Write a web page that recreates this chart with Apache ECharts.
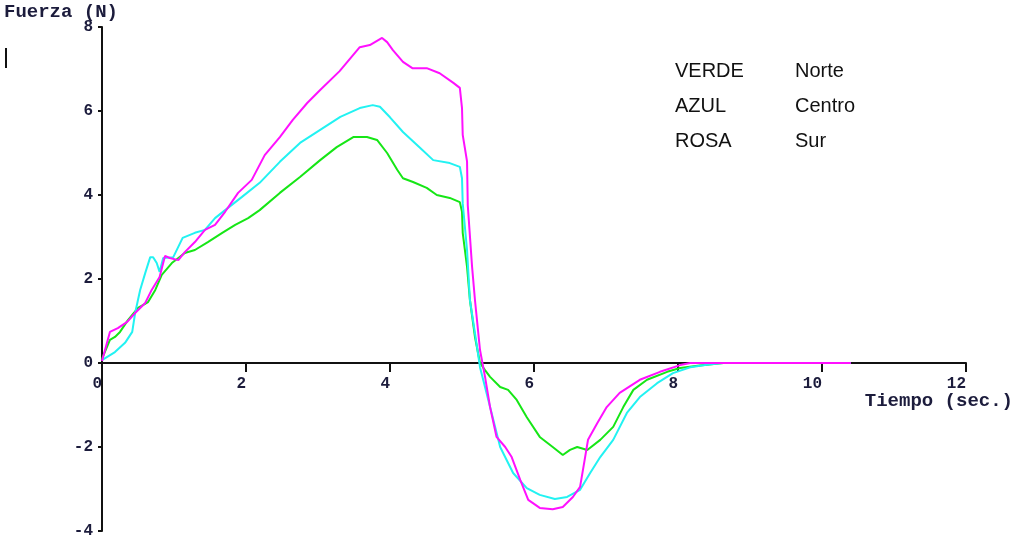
<!DOCTYPE html>
<html>
<head>
<meta charset="utf-8">
<title>Fuerza (N)</title>
<script src="https://cdn.jsdelivr.net/npm/echarts@6/dist/echarts.min.js"></script>
<style>
  html, body { margin: 0; padding: 0; background: #ffffff; }
  #chart { width: 1013px; height: 540px; }
</style>
</head>
<body>
<div id="chart"></div>
<script>
// Force readings (N) against time (s) for the three sensors.
const tiempoNorte = [0, 0.11, 0.18, 0.25, 0.36, 0.5, 0.64, 0.74, 0.83, 0.97, 1.15, 1.29, 1.47, 1.67, 1.85, 2.03, 2.19, 2.47, 2.75, 3.03, 3.26, 3.49, 3.68, 3.82, 3.96, 4.1, 4.18, 4.32, 4.51, 4.65, 4.83, 4.97, 5.0, 5.01, 5.07, 5.11, 5.18, 5.25, 5.32, 5.39, 5.53, 5.64, 5.76, 5.9, 6.08, 6.26, 6.4, 6.5, 6.6, 6.74, 6.92, 7.1, 7.24, 7.38, 7.57, 7.85, 8.03, 8.3, 8.63, 10.4];
const fuerzaNorte = [0.1, 0.55, 0.62, 0.74, 1.02, 1.31, 1.45, 1.74, 2.1, 2.38, 2.62, 2.69, 2.88, 3.1, 3.29, 3.45, 3.64, 4.05, 4.43, 4.83, 5.14, 5.38, 5.38, 5.31, 5.0, 4.6, 4.4, 4.31, 4.17, 4.0, 3.93, 3.83, 3.6, 3.1, 2.29, 1.5, 0.62, 0.0, -0.17, -0.33, -0.57, -0.64, -0.88, -1.29, -1.76, -2.0, -2.19, -2.07, -2.0, -2.07, -1.83, -1.52, -1.05, -0.64, -0.4, -0.21, -0.12, -0.06, 0, 0];

const tiempoCentro = [0, 0.18, 0.32, 0.42, 0.46, 0.53, 0.6, 0.67, 0.71, 0.76, 0.8, 0.85, 0.99, 1.12, 1.29, 1.43, 1.57, 1.71, 1.94, 2.19, 2.47, 2.75, 3.03, 3.31, 3.58, 3.76, 3.86, 4.0, 4.18, 4.42, 4.6, 4.83, 4.97, 5.0, 5.01, 5.07, 5.11, 5.18, 5.25, 5.39, 5.53, 5.71, 5.9, 6.08, 6.29, 6.46, 6.64, 6.78, 6.92, 7.1, 7.29, 7.47, 7.71, 7.93, 8.17, 8.4, 8.63, 10.4];
const fuerzaCentro = [0.07, 0.26, 0.48, 0.74, 1.19, 1.74, 2.14, 2.52, 2.52, 2.38, 2.17, 2.5, 2.52, 2.98, 3.1, 3.17, 3.45, 3.64, 3.95, 4.29, 4.79, 5.24, 5.55, 5.86, 6.07, 6.14, 6.1, 5.85, 5.5, 5.12, 4.83, 4.76, 4.67, 4.4, 3.8, 2.69, 1.5, 0.71, -0.1, -1.05, -2.0, -2.62, -2.98, -3.14, -3.24, -3.19, -3.02, -2.62, -2.24, -1.83, -1.19, -0.81, -0.48, -0.24, -0.1, -0.04, 0, 0];

const tiempoSur = [0, 0.11, 0.22, 0.35, 0.46, 0.6, 0.69, 0.8, 0.875, 0.94, 1.06, 1.15, 1.29, 1.43, 1.57, 1.71, 1.89, 2.08, 2.26, 2.47, 2.65, 2.85, 3.03, 3.3, 3.58, 3.72, 3.89, 3.96, 4.04, 4.18, 4.31, 4.51, 4.69, 4.88, 4.97, 5.0, 5.01, 5.07, 5.08, 5.14, 5.18, 5.25, 5.32, 5.39, 5.48, 5.6, 5.69, 5.81, 5.92, 6.08, 6.26, 6.4, 6.54, 6.64, 6.71, 6.75, 6.88, 7.01, 7.19, 7.47, 7.75, 8.03, 8.17, 10.4];
const fuerzaSur = [0.05, 0.74, 0.83, 0.98, 1.19, 1.43, 1.74, 2.05, 2.55, 2.5, 2.45, 2.64, 2.88, 3.17, 3.29, 3.6, 4.05, 4.36, 4.95, 5.38, 5.79, 6.19, 6.5, 6.95, 7.52, 7.57, 7.74, 7.64, 7.45, 7.17, 7.02, 7.02, 6.9, 6.67, 6.55, 6.07, 5.43, 4.8, 3.76, 2.29, 1.5, 0.31, -0.33, -1.05, -1.76, -2.0, -2.24, -2.79, -3.26, -3.45, -3.48, -3.43, -3.19, -2.95, -2.24, -1.83, -1.43, -1.05, -0.71, -0.4, -0.21, -0.05, 0, 0];

const colores = ['VERDE', 'AZUL', 'ROSA'];
const zonas = ['Norte', 'Centro', 'Sur'];

const Y_MIN = -4, Y_MAX = 8;
const GRID_TOP = 27, GRID_BOTTOM = 9, CHART_H = 540;

const pares = (t, v) => t.map((x, i) => [x, v[i]]);

const chart = echarts.init(document.getElementById('chart'), null, { renderer: 'canvas' });

const tickFont = {
  fontFamily: '"Liberation Mono", monospace',
  fontWeight: 'bold',
  fontSize: 16,
  color: '#1c1c3c'
};

// The time axis sits on the zero line: shift it up from the grid bottom.
const plotH = CHART_H - GRID_TOP - GRID_BOTTOM;
const zeroShift = plotH * (0 - Y_MIN) / (Y_MAX - Y_MIN);

const legendText = [];
colores.forEach((c, i) => {
  legendText.push({
    type: 'text', left: 675, top: 61 + i * 35,
    style: { text: c, font: '20px "Liberation Sans", Arial, sans-serif', fill: '#111' }
  });
  legendText.push({
    type: 'text', left: 795, top: 61 + i * 35,
    style: { text: zonas[i], font: '20px "Liberation Sans", Arial, sans-serif', fill: '#111' }
  });
});

chart.setOption({
  animation: false,
  backgroundColor: '#ffffff',
  grid: {
    left: 102, right: 47, top: GRID_TOP, bottom: GRID_BOTTOM,
    containLabel: false, outerBoundsMode: 'none'
  },
  xAxis: {
    type: 'value', min: 0, max: 12, interval: 2,
    position: 'bottom', offset: -zeroShift,
    axisLine: { onZero: false, lineStyle: { color: '#111', width: 2 } },
    axisTick: { show: true, length: 9, lineStyle: { color: '#111', width: 2 } },
    axisLabel: Object.assign({ margin: 13, align: 'right' }, tickFont),
    splitLine: { show: false }
  },
  yAxis: {
    type: 'value', min: Y_MIN, max: Y_MAX, interval: 2,
    axisLine: { show: true, onZero: false, lineStyle: { color: '#111', width: 2 } },
    axisTick: { show: true, length: 4, lineStyle: { color: '#111', width: 2 } },
    axisLabel: Object.assign({ margin: 9 }, tickFont),
    splitLine: { show: false }
  },
  graphic: [
    {
      type: 'text', left: 4, top: 3,
      style: { text: 'Fuerza (N)', font: 'bold 19px "Liberation Mono", monospace', fill: '#1c1c3c' }
    },
    {
      type: 'text', right: 0, top: 392,
      style: { text: 'Tiempo (sec.)', font: 'bold 19px "Liberation Mono", monospace', fill: '#1c1c3c' }
    },
    {
      type: 'rect', left: 5, top: 48,
      shape: { width: 2, height: 20 },
      style: { fill: '#111' }
    }
  ].concat(legendText),
  series: [
    {
      name: 'Norte', type: 'line', data: pares(tiempoNorte, fuerzaNorte),
      showSymbol: false, smooth: false,
      lineStyle: { color: '#16e616', width: 2 }, z: 2
    },
    {
      name: 'Centro', type: 'line', data: pares(tiempoCentro, fuerzaCentro),
      showSymbol: false, smooth: false,
      lineStyle: { color: '#22f2f2', width: 2 }, z: 3
    },
    {
      name: 'Sur', type: 'line', data: pares(tiempoSur, fuerzaSur),
      showSymbol: false, smooth: false,
      lineStyle: { color: '#ff10ff', width: 2 }, z: 4
    }
  ]
});
</script>
</body>
</html>
